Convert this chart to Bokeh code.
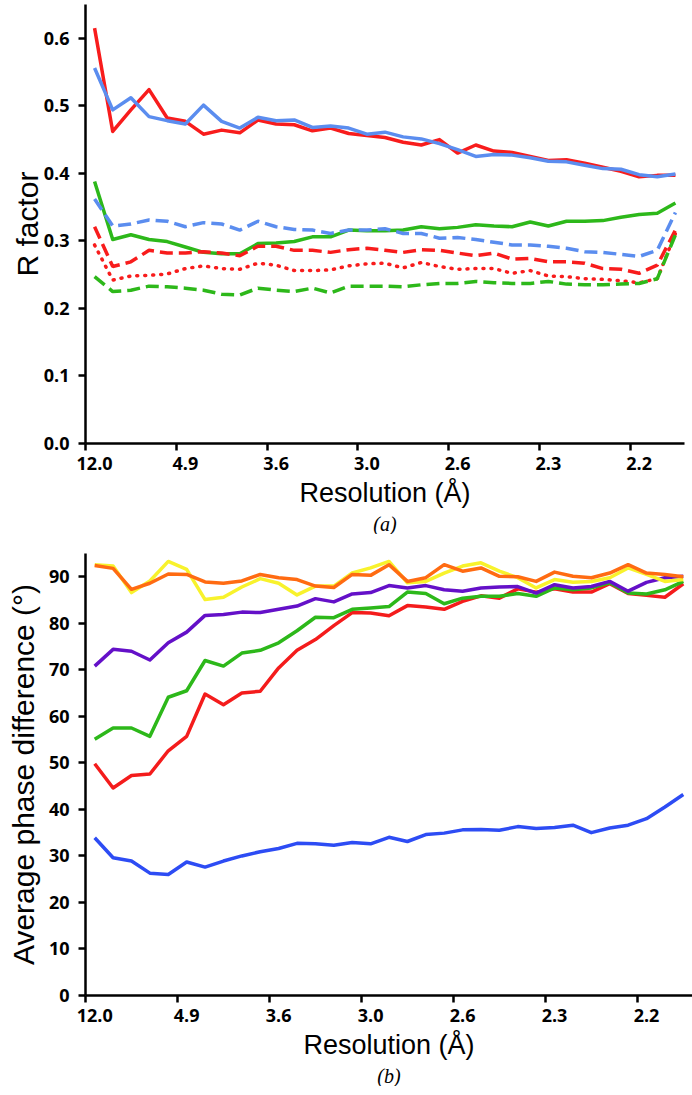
from bokeh.plotting import figure
from bokeh.models import Range1d, FixedTicker, Title, NumeralTickFormatter
from bokeh.layouts import column
from bokeh.embed import file_html
from bokeh.resources import INLINE

# ---------------- data ----------------
bins = list(range(33))                      # resolution bins, low -> high resolution
tick_positions = [0, 5, 10, 15, 20, 25, 30]
tick_labels = ["12.0", "4.9", "3.6", "3.0", "2.6", "2.3", "2.2"]

# panel (a): R factors
r_red_solid = [0.615, 0.462, 0.494, 0.524, 0.482, 0.477, 0.458, 0.464, 0.460, 0.479, 0.473,
               0.472, 0.463, 0.467, 0.459, 0.456, 0.453, 0.446, 0.442, 0.450, 0.430, 0.442,
               0.433, 0.431, 0.425, 0.419, 0.420, 0.415, 0.409, 0.403, 0.395, 0.397, 0.397]
r_blue_solid = [0.556, 0.494, 0.512, 0.484, 0.478, 0.473, 0.501, 0.477, 0.467, 0.483, 0.478,
                0.479, 0.468, 0.470, 0.467, 0.458, 0.461, 0.454, 0.451, 0.444, 0.435, 0.425,
                0.428, 0.427, 0.423, 0.418, 0.417, 0.412, 0.407, 0.406, 0.398, 0.395, 0.399]
r_green_solid = [0.388, 0.302, 0.309, 0.302, 0.299, 0.291, 0.283, 0.281, 0.281, 0.296, 0.297,
                 0.299, 0.306, 0.306, 0.316, 0.315, 0.315, 0.316, 0.321, 0.318, 0.320, 0.324,
                 0.322, 0.321, 0.328, 0.322, 0.329, 0.329, 0.330, 0.335, 0.339, 0.341, 0.356]
r_blue_dashed = [0.362, 0.322, 0.325, 0.331, 0.329, 0.321, 0.327, 0.325, 0.316, 0.329, 0.321,
                 0.317, 0.316, 0.311, 0.316, 0.316, 0.318, 0.311, 0.311, 0.304, 0.305, 0.302,
                 0.298, 0.294, 0.294, 0.292, 0.289, 0.284, 0.283, 0.280, 0.277, 0.286, 0.342]
r_red_dashed = [0.321, 0.262, 0.269, 0.286, 0.282, 0.282, 0.284, 0.282, 0.278, 0.292, 0.292,
                0.286, 0.286, 0.283, 0.287, 0.289, 0.286, 0.283, 0.287, 0.286, 0.282, 0.278,
                0.282, 0.273, 0.274, 0.269, 0.269, 0.267, 0.259, 0.258, 0.252, 0.264, 0.316]
r_red_dotted = [0.294, 0.242, 0.248, 0.249, 0.251, 0.259, 0.263, 0.259, 0.258, 0.267, 0.264,
                0.256, 0.256, 0.257, 0.263, 0.266, 0.267, 0.260, 0.268, 0.262, 0.258, 0.259,
                0.259, 0.252, 0.256, 0.248, 0.247, 0.244, 0.243, 0.241, 0.238, 0.244, 0.311]
r_green_dashed = [0.247, 0.225, 0.227, 0.233, 0.232, 0.230, 0.227, 0.221, 0.220, 0.230, 0.227,
                  0.225, 0.230, 0.223, 0.233, 0.233, 0.233, 0.232, 0.235, 0.237, 0.237, 0.240,
                  0.238, 0.237, 0.237, 0.240, 0.236, 0.235, 0.235, 0.236, 0.237, 0.244, 0.309]

# panel (b): average phase difference (degrees)
ph_red = [49.8, 44.6, 47.3, 47.6, 52.6, 55.7, 64.8, 62.5, 65.0, 65.4, 70.4, 74.2, 76.5, 79.5,
          82.3, 82.2, 81.6, 83.8, 83.5, 83.0, 84.7, 85.9, 85.4, 87.4, 86.7, 87.4, 86.7, 86.7,
          88.5, 86.4, 86.0, 85.6, 88.5]
ph_green = [55.1, 57.5, 57.5, 55.7, 64.1, 65.5, 72.0, 70.8, 73.6, 74.2, 75.8, 78.4, 81.3, 81.2,
            83.0, 83.3, 83.6, 86.7, 86.4, 84.2, 85.4, 85.8, 85.8, 86.4, 85.8, 87.6, 87.2, 87.6,
            88.7, 86.5, 86.3, 87.2, 89.0]
ph_purple = [70.8, 74.4, 74.0, 72.1, 75.8, 78.1, 81.7, 81.9, 82.4, 82.3, 83.0, 83.7, 85.3, 84.6,
             86.3, 86.6, 88.1, 87.6, 88.1, 87.2, 86.9, 87.6, 87.8, 87.9, 86.5, 88.3, 87.6, 87.9,
             89.0, 86.9, 88.8, 89.8, 90.1]
ph_yellow = [92.6, 92.3, 86.6, 89.1, 93.3, 91.6, 85.1, 85.6, 87.8, 89.6, 88.6, 86.1, 88.0, 88.0,
             90.8, 91.9, 93.3, 88.7, 89.0, 90.8, 92.3, 93.0, 91.2, 89.8, 87.6, 89.4, 88.8, 89.0,
             89.8, 91.9, 90.5, 89.0, 89.4]
ph_orange = [92.4, 91.8, 87.3, 88.6, 90.6, 90.5, 88.9, 88.6, 89.1, 90.5, 89.8, 89.4, 88.0, 87.7,
             90.5, 90.3, 92.6, 89.0, 89.8, 92.6, 91.2, 91.9, 90.1, 90.0, 89.0, 91.0, 90.1, 89.8,
             90.8, 92.6, 90.8, 90.5, 90.0]
ph_blue = [33.9, 29.6, 28.9, 26.3, 26.0, 28.7, 27.6, 28.9, 30.0, 30.9, 31.6, 32.7, 32.6, 32.3,
           32.9, 32.6, 34.0, 33.1, 34.6, 34.9, 35.6, 35.7, 35.5, 36.3, 35.9, 36.1, 36.6, 35.0,
           36.0, 36.6, 38.0, 40.5, 43.2]

r_ticks = [0.0, 0.1, 0.2, 0.3, 0.4, 0.5, 0.6]
ph_ticks = [0, 10, 20, 30, 40, 50, 60, 70, 80, 90]

# ---------------- styling helpers ----------------
TICK_FONT = "Open Sans"
LABEL_FONT = "Liberation Sans"


def style_axes(p, yticks, ylabel, yfmt, panel_tag, ylabel_standoff):
    p.outline_line_color = None
    p.xgrid.visible = False
    p.ygrid.visible = False
    p.background_fill_color = None
    p.border_fill_color = None

    for ax in (p.xaxis[0], p.yaxis[0]):
        ax.axis_line_color = "black"
        ax.axis_line_width = 2.5
        ax.major_label_text_font = TICK_FONT
        ax.major_label_text_font_style = "bold"
        ax.major_label_text_font_size = "18px"
        ax.major_label_text_color = "black"
        ax.axis_label_text_font = LABEL_FONT
        ax.axis_label_text_font_style = "normal"
        ax.axis_label_text_color = "black"

    xa = p.xaxis[0]
    boundaries = [t - 0.5 for t in tick_positions]
    xa.ticker = FixedTicker(ticks=tick_positions, minor_ticks=boundaries)
    xa.major_label_overrides = {t: lab for t, lab in zip(tick_positions, tick_labels)}
    xa.major_tick_line_color = None
    xa.major_tick_out = 7
    xa.major_tick_in = 0
    xa.minor_tick_line_color = "black"
    xa.minor_tick_line_width = 2.5
    xa.minor_tick_out = 7
    xa.minor_tick_in = 0
    xa.major_label_standoff = 6
    xa.axis_label = "Resolution (Å)"
    xa.axis_label_text_font_size = "27px"
    xa.axis_label_standoff = 5

    ya = p.yaxis[0]
    ya.ticker = FixedTicker(ticks=yticks)
    ya.formatter = NumeralTickFormatter(format=yfmt)
    ya.major_tick_line_color = "black"
    ya.major_tick_line_width = 2.5
    ya.major_tick_out = 7
    ya.major_tick_in = 0
    ya.minor_tick_line_color = None
    ya.major_label_standoff = 9
    ya.axis_label = ylabel
    ya.axis_label_text_font_size = "30px"
    ya.axis_label_standoff = ylabel_standoff

    p.add_layout(Title(text=panel_tag, align="center", text_font="Liberation Serif",
                       text_font_style="italic", text_font_size="20px",
                       text_color="black", standoff=0),
                 "below")


# ---------------- panel (a) ----------------
pa = figure(frame_width=599, frame_height=439,
            x_range=Range1d(-0.5, 32.5), y_range=Range1d(0, 0.65),
            output_backend="svg", toolbar_location=None,
            min_border_left=83, min_border_right=10, min_border_top=4, min_border_bottom=0)

pa.line(bins, r_red_solid, line_color="#F81C1C", line_width=3.5, line_join="round")
pa.line(bins, r_blue_solid, line_color="#5B8DEF", line_width=3.5, line_join="round")
pa.line(bins, r_green_solid, line_color="#2DB81A", line_width=3.5, line_join="round")
pa.line(bins, r_blue_dashed, line_color="#5B8DEF", line_width=3.5, line_dash="13 6")
pa.line(bins, r_red_dashed, line_color="#F81C1C", line_width=3.5, line_dash="13 6")
pa.line(bins, r_red_dotted, line_color="#F81C1C", line_width=3.5, line_dash="1 7",
        line_cap="round")
pa.line(bins, r_green_dashed, line_color="#2DB81A", line_width=3.5, line_dash="13 6")

style_axes(pa, r_ticks, "R factor", "0.0", "(a)", -3)

# ---------------- panel (b) ----------------
pb = figure(frame_width=607, frame_height=442,
            x_range=Range1d(-0.5, 32.5), y_range=Range1d(0, 95),
            output_backend="svg", toolbar_location=None,
            min_border_left=85, min_border_right=0, min_border_top=19, min_border_bottom=0)

pb.line(bins, ph_red, line_color="#F41C1C", line_width=3.5, line_join="round")
pb.line(bins, ph_green, line_color="#2DB81A", line_width=3.5, line_join="round")
pb.line(bins, ph_purple, line_color="#6410C8", line_width=3.5, line_join="round")
pb.line(bins, ph_yellow, line_color="#F8F22C", line_width=3.5, line_join="round")
pb.line(bins, ph_orange, line_color="#FF6B12", line_width=3.5, line_join="round")
pb.line(bins, ph_blue, line_color="#2D4CF4", line_width=3.5, line_join="round")

style_axes(pb, ph_ticks, "Average phase difference (°)", "0", "(b)", 6)

layout = column(pa, pb, spacing=0)
open("out.html", "w").write(file_html(layout, INLINE))
